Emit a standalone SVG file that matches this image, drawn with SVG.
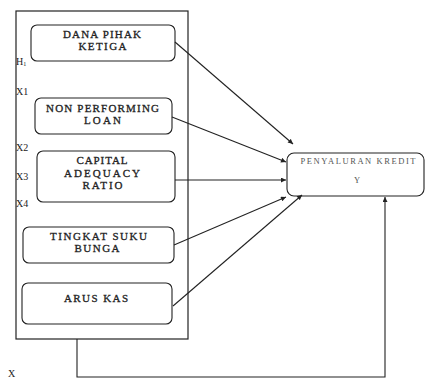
<svg xmlns="http://www.w3.org/2000/svg" width="425" height="379" viewBox="0 0 425 379">
<style>
.box{fill:#fff;stroke:#222;stroke-width:1.1}
.t{font-family:"Liberation Serif","Times New Roman",serif;font-size:11px;fill:#222;text-anchor:middle;stroke:#222;stroke-width:0.3}
.l{font-family:"Liberation Serif","Times New Roman",serif;font-size:10px;fill:#222}
.c{stroke:#222;stroke-width:1.1;fill:none}
</style>
<defs>
<marker id="ah" viewBox="0 0 10 10" refX="10" refY="5" markerWidth="6" markerHeight="5" orient="auto" markerUnits="userSpaceOnUse">
<path d="M0,0 L10,5 L0,10 z" fill="#222"/>
</marker>
</defs>
<rect id="frame" x="16" y="11" width="172" height="328" fill="none" stroke="#222" stroke-width="1.2"/>
<g id="labels">
<text class="l" x="16" y="65">H<tspan font-size="6" dy="1">1</tspan></text>
<text class="l" x="16" y="95">X1</text>
<text class="l" x="16" y="151">X2</text>
<text class="l" x="16" y="180">X3</text>
<text class="l" x="16" y="207">X4</text>
<text class="l" x="23" y="320">X5</text>
<text class="l" x="8" y="377">X</text>
</g>
<g id="n1">
<rect class="box" x="31" y="25" width="144" height="36" rx="6"/>
<text class="t" x="102" y="38" textLength="78" lengthAdjust="spacing">DANA PIHAK</text>
<text class="t" x="102.5" y="50" textLength="48" lengthAdjust="spacing">KETIGA</text>
</g>
<g id="n2">
<rect class="box" x="35" y="98" width="137" height="36" rx="6"/>
<text class="t" x="102.5" y="112" textLength="113" lengthAdjust="spacing">NON PERFORMING</text>
<text class="t" x="102.5" y="124" textLength="37" lengthAdjust="spacing">LOAN</text>
</g>
<g id="n3">
<rect class="box" x="37" y="151" width="138" height="51" rx="6"/>
<text class="t" x="102" y="164" textLength="51" lengthAdjust="spacing">CAPITAL</text>
<text class="t" x="102" y="177" textLength="76" lengthAdjust="spacing">ADEQUACY</text>
<text class="t" x="102.5" y="189" textLength="40" lengthAdjust="spacing">RATIO</text>
</g>
<g id="n4">
<rect class="box" x="23" y="227" width="151" height="36" rx="6"/>
<text class="t" x="98.5" y="240" textLength="97" lengthAdjust="spacing">TINGKAT SUKU</text>
<text class="t" x="97" y="252" textLength="45" lengthAdjust="spacing">BUNGA</text>
</g>
<g id="n5">
<rect class="box" x="22" y="283" width="150" height="41" rx="6"/>
<text class="t" x="96" y="302" textLength="64" lengthAdjust="spacing">ARUS KAS</text>
</g>
<g id="y">
<rect class="box" x="287" y="153" width="137" height="43" rx="7"/>
<text class="t" x="358" y="164" style="font-size:8.5px;fill:#555;stroke:none" textLength="115" lengthAdjust="spacing">PENYALURAN KREDIT</text>
<text class="t" x="357" y="183" style="font-size:8.5px;fill:#555;stroke:none">Y</text>
</g>
<g id="connectors">
<line class="c" x1="175" y1="42" x2="293" y2="144" marker-end="url(#ah)"/>
<line class="c" x1="172" y1="117" x2="286" y2="162" marker-end="url(#ah)"/>
<line class="c" x1="175" y1="180" x2="286" y2="180" marker-end="url(#ah)"/>
<line class="c" x1="174" y1="245" x2="286" y2="197" marker-end="url(#ah)"/>
<line class="c" x1="173" y1="306" x2="302" y2="195" marker-end="url(#ah)"/>
<polyline class="c" points="77,339 77,377 385,377 385,197" marker-end="url(#ah)"/>
</g>
</svg>
